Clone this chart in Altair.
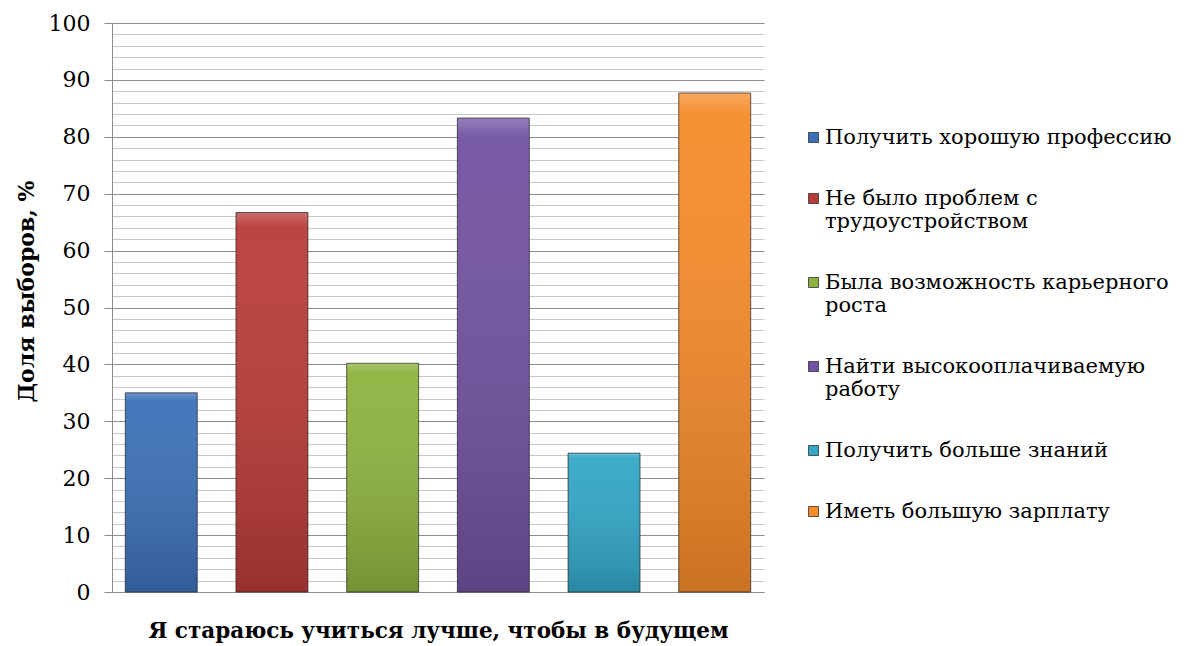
import altair as alt
import pandas as pd

categories = [
    "Получить хорошую профессию",
    "Не было проблем с\nтрудоустройством",
    "Была возможность карьерного\nроста",
    "Найти высокооплачиваемую\nработу",
    "Получить больше знаний",
    "Иметь большую зарплату",
]
values = [35.0, 66.7, 40.2, 83.3, 24.4, 87.7]
colors = ["#3b70b7", "#b93b37", "#8db33f", "#7152a0", "#32a6c6", "#f68b2a"]
major_ticks = list(range(0, 101, 10))
minor_ticks = list(range(0, 101, 2))

df = pd.DataFrame({"cat": categories, "val": values})

FONT = "DejaVu Serif"

x_enc = alt.X(
    "cat:N",
    sort=categories,
    scale=alt.Scale(paddingInner=0.35, paddingOuter=0.12),
    axis=alt.Axis(
        title="Я стараюсь учиться лучше, чтобы в будущем",
        labels=False, ticks=False, domainColor="#8c8c8c",
        titleFont=FONT, titleFontSize=21.5, titleFontWeight="bold",
        titleColor="#000000", titlePadding=28,
    ),
)

y_scale = alt.Scale(domain=[0, 100], nice=False)

minor = alt.Chart(df).mark_bar(opacity=0).encode(
    x=x_enc,
    y=alt.Y("val:Q", scale=y_scale, axis=alt.Axis(
        values=minor_ticks, orient="left", labels=False, ticks=False,
        domain=False, grid=True, gridColor="#c8c8c8", gridWidth=1.2, title=None,
    )),
)

bars = alt.Chart(df).mark_bar(strokeWidth=1).encode(
    x=x_enc,
    y=alt.Y("val:Q", scale=y_scale, axis=alt.Axis(
        values=major_ticks, orient="left", grid=True, gridColor="#8c8c8c",
        gridWidth=1.2, tickColor="#8c8c8c", tickSize=8, domainColor="#8c8c8c",
        labelFont=FONT, labelFontSize=22, labelColor="#000000", labelPadding=14,
        title="Доля выборов, %", titleFont=FONT, titleFontSize=22,
        titleFontWeight="bold", titleColor="#000000", titlePadding=10,
        titleY=268,
    )),
    color=alt.Color("cat:N", sort=categories,
                    scale=alt.Scale(domain=categories, range=colors),
                    legend=alt.Legend(
                        title=None, orient="none", legendX=691, legendY=104,
                        labelExpr="split(datum.label, '\\n')",
                        labelFont=FONT, labelFontSize=21, labelColor="#000000",
                        labelLimit=400, symbolType="square", symbolSize=100,
                        symbolStrokeColor="#333333", symbolStrokeWidth=0.8,
                        rowPadding=39, labelOffset=1,
                    )),
)

shade = alt.Chart(df).mark_bar(
    fill=alt.Gradient(
        gradient="linear", x1=0, y1=0, x2=0, y2=1,
        stops=[
            alt.GradientStop(offset=0, color="rgba(255,255,255,0.25)"),
            alt.GradientStop(offset=0.04, color="rgba(255,255,255,0.05)"),
            alt.GradientStop(offset=1, color="rgba(0,0,0,0.18)"),
        ],
    ),
    stroke="#222222", strokeOpacity=0.7, strokeWidth=1,
).encode(
    x=x_enc,
    y=alt.Y("val:Q", scale=y_scale, axis=None),
)

chart = alt.layer(minor, bars, shade).resolve_axis(y="independent").properties(
    width=652, height=569,
    autosize=alt.AutoSizeParams(type="none"),
    padding={"left": 112, "top": 23, "right": 422, "bottom": 54},
    background="white",
).configure_view(stroke=None)

chart.save("out.html", embed_options={"renderer": "svg", "actions": False})
